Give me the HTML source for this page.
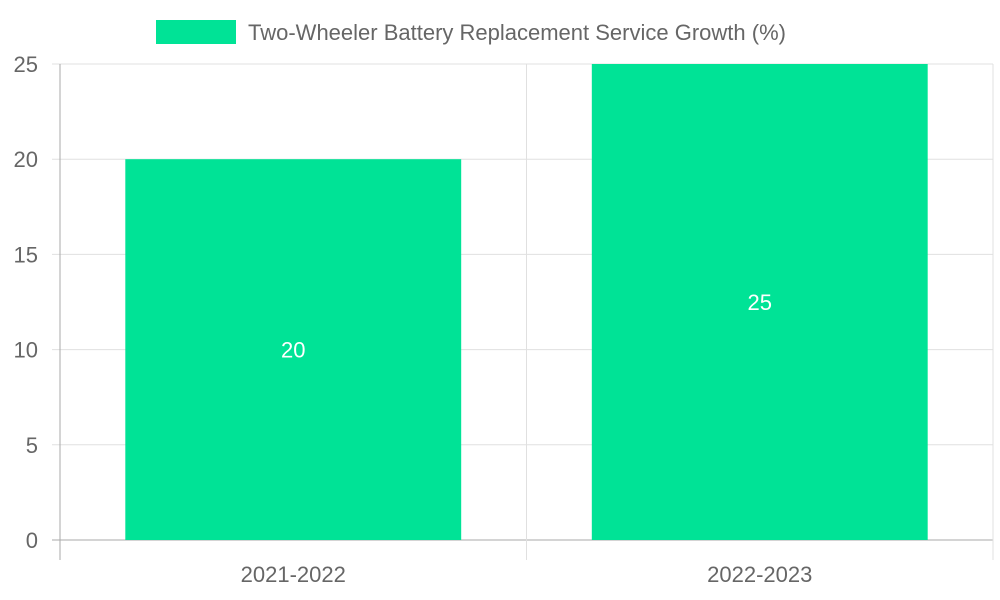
<!DOCTYPE html>
<html><head><meta charset="utf-8"><style>
body{margin:0;background:#fff;}
svg{display:block;font-family:"Liberation Sans",sans-serif;}
</style></head><body>
<svg id="chart" width="1000" height="600">
<g id="grid"></g><g id="bars"></g><g id="axes"></g>
<g>
<rect x="156" y="20" width="80" height="24" fill="#00e396"></rect>
<text x="248" y="40" font-size="22" fill="#666">Two-Wheeler Battery Replacement Service Growth (%)</text>
</g>
</svg>
<script>
const categories = ["2021-2022", "2022-2023"];
const values = [20, 25];
const yTicks = [0, 5, 10, 15, 20, 25];
const L=60,R=993,T=64,B=540,yMax=25;
const y=v=>B-(v/yMax)*(B-T);
const band=(R-L)/categories.length;
const xc=i=>L+band*(i+0.5);
const ns="http://www.w3.org/2000/svg";
const mk=(p,t,a)=>{const e=document.createElementNS(ns,t);for(const k in a)e.setAttribute(k,a[k]);p.appendChild(e);return e;};
const grid=document.getElementById('grid'),bars=document.getElementById('bars'),axes=document.getElementById('axes');
yTicks.forEach(t=>{
  const l=mk(grid,'line',{x1:52,x2:R,y1:y(t),y2:y(t),stroke:t===0?'#aaa':'#e0e0e0','stroke-width':1});
  
  
  const tx=mk(axes,'text',{x:38,y:y(t)+8,'font-size':22,fill:'#666','text-anchor':'end'});
  tx.textContent=t;
  
  
});
for(let i=0;i<=categories.length;i++){
  const l=mk(grid,'line',{x1:L+band*i,x2:L+band*i,y1:T,y2:560,stroke:i===0?'#aaa':'#e0e0e0','stroke-width':1});
  
  
}
const bw=band*0.72;
categories.forEach((c,i)=>{
  const r=mk(bars,'rect',{x:xc(i)-bw/2,y:y(values[i]),width:bw,height:B-y(values[i]),fill:'#00e396'});
  
  
  const v=mk(bars,'text',{x:xc(i),y:(y(values[i])+B)/2+8,'font-size':22,fill:'#fff','text-anchor':'middle'});
  v.textContent=values[i];
  
  
  const t=mk(axes,'text',{x:xc(i),y:582,'font-size':22,fill:'#666','text-anchor':'middle'});
  t.textContent=c;
  
  
});
</script>
</body></html>
